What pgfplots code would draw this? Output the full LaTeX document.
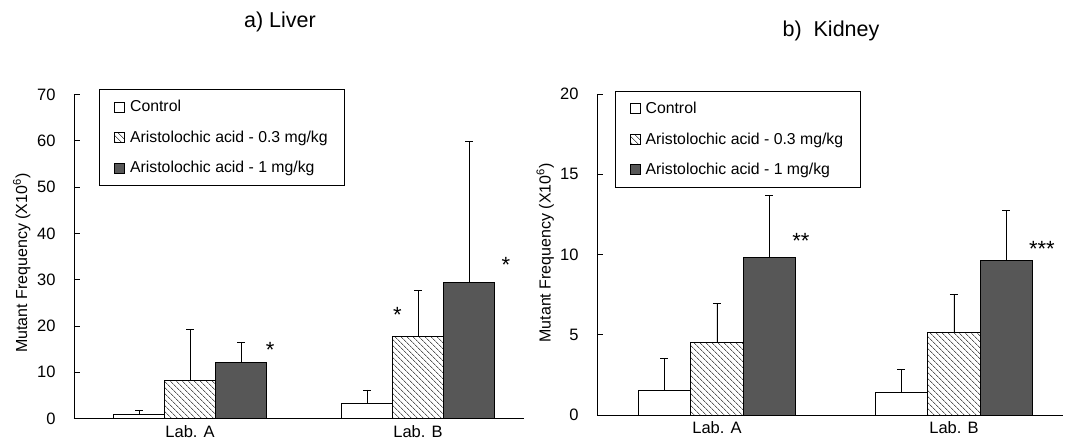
\documentclass[border=0pt]{standalone}
\usepackage{fontspec}
\setmainfont{Liberation Sans}
\usepackage{pgfplots}
\usepackage{pgfplotstable}
\pgfplotsset{compat=1.18}
\usetikzlibrary{patterns.meta}

% liver: x y (mean) e (upper error)
\pgfplotstableread{
x y e
1 1.0 0.8
2 3.3 2.9
}\livctrl
\pgfplotstableread{
x y e
1 8.3 11.0
2 17.8 9.9
}\livlow
\pgfplotstableread{
x y e
1 12.1 4.3
2 29.5 30.3
}\livhigh
% kidney
\pgfplotstableread{
x y e
1 1.5 2.0
2 1.4 1.45
}\kidctrl
\pgfplotstableread{
x y e
1 4.5 2.45
2 5.15 2.35
}\kidlow
\pgfplotstableread{
x y e
1 9.8 3.9
2 9.6 3.15
}\kidhigh

\definecolor{darkbar}{gray}{0.34}

\pgfplotsset{
  mfstyle/.style={
    scale only axis,
    ybar=0pt,
    ymin=0,
    xtick={1,2},
    xticklabels={Lab. A, Lab. B},
    major x tick style={draw=none},
    extra x tick labels={},
    extra x tick style={major tick length=6pt, tick style={draw=black, line width=0.8pt}},
    axis x line*=bottom,
    axis y line*=left,
    axis line style={-, line width=0.9pt},
    tick align=inside,
    major tick length=6pt,
    tick style={line width=0.8pt, black},
    tick label style={font=\fontsize{16.5}{19}\selectfont},
    yticklabel style={xshift=-15pt},
    /pgf/number format/assume math mode=true,
    xticklabel style={yshift=-3pt},
    ylabel={Mutant Frequency (X10\textsuperscript{6})},
    ylabel style={font=\fontsize{16}{18}\selectfont, anchor=center},
    legend cell align=left,
    legend style={draw=black, line width=0.8pt, fill=white, anchor=north west,
      font=\fontsize{15.8}{18}\selectfont,
      inner xsep=15pt, inner ysep=9pt, row sep=13.5pt, column sep=3pt},
    error bars/y dir=plus,
    error bars/y explicit,
    error bars/error bar style={line width=0.8pt, black},
    error bars/error mark options={rotate=90, mark size=4pt, line width=0.8pt, black},
    clip=false,
  },
  bar ctrl/.style={draw=black, line width=0.9pt, fill=white},
  bar low/.style={draw=black, line width=0.9pt, fill=white,
    postaction={pattern={Lines[angle=-45, distance=4pt, line width=0.6pt]}}},
  bar high/.style={draw=black, line width=0.9pt, fill=darkbar},
  sq legend/.style={legend image code/.code={
    \draw[##1, line width=0.7pt] (0pt,-5pt) rectangle (10pt,5pt);}},
}

\newcommand{\starfont}{\fontsize{22}{24}\selectfont}

\begin{document}
\begin{tikzpicture}
\useasboundingbox (0,0) rectangle (1065pt,439pt);

\node[font=\fontsize{21.5}{24}\selectfont] at (280pt,417pt) {a) Liver};
\node[font=\fontsize{21.5}{24}\selectfont] at (831pt,408pt) {b)\ \ Kidney};

% a) Liver
\begin{axis}[mfstyle,
  at={(74pt,20.4pt)}, anchor=south west,
  width=450pt, height=324pt,
  xmin=0.491, xmax=2.465,
  ymax=70, ytick distance=10,
  extra x ticks={2.465},
  bar width=51pt,
  ylabel style={at={(axis description cs:-0.116,0.48)}},
  legend style={at={(axis description cs:0.0556,1.017)}},
]
\addplot[bar ctrl, sq legend] table[x=x, y=y, y error=e] {\livctrl};
\addlegendentry{Control}
\addplot[bar low, sq legend] table[x=x, y=y, y error=e] {\livlow};
\addlegendentry{Aristolochic acid - 0.3 mg/kg}
\addplot[bar high, sq legend] table[x=x, y=y, y error=e] {\livhigh};
\addlegendentry{Aristolochic acid - 1 mg/kg}
\node[font=\starfont, yshift=-5pt] at (axis cs:1.351,15.9) {*};
\node[font=\starfont, yshift=-5pt] at (axis cs:1.91,23.4) {*};
\node[font=\starfont, yshift=-5pt] at (axis cs:2.386,34.2) {*};
\end{axis}

% b) Kidney
\begin{axis}[mfstyle,
  at={(597pt,24pt)}, anchor=south west,
  width=466pt, height=321pt,
  xmin=0.494, xmax=2.46,
  ymax=20, ytick distance=5,
  extra x ticks={1.5},
  bar width=52.5pt,
  ylabel style={at={(axis description cs:-0.111,0.505)}},
  legend style={at={(axis description cs:0.0376,1.01)}},
]
\addplot[bar ctrl, sq legend] table[x=x, y=y, y error=e] {\kidctrl};
\addlegendentry{Control}
\addplot[bar low, sq legend] table[x=x, y=y, y error=e] {\kidlow};
\addlegendentry{Aristolochic acid - 0.3 mg/kg}
\addplot[bar high, sq legend] table[x=x, y=y, y error=e] {\kidhigh};
\addlegendentry{Aristolochic acid - 1 mg/kg}
\node[font=\starfont, yshift=-5pt] at (axis cs:1.354,11.15) {**};
\node[font=\starfont, yshift=-5pt] at (axis cs:2.371,10.65) {***};
\end{axis}
\end{tikzpicture}
\end{document}
